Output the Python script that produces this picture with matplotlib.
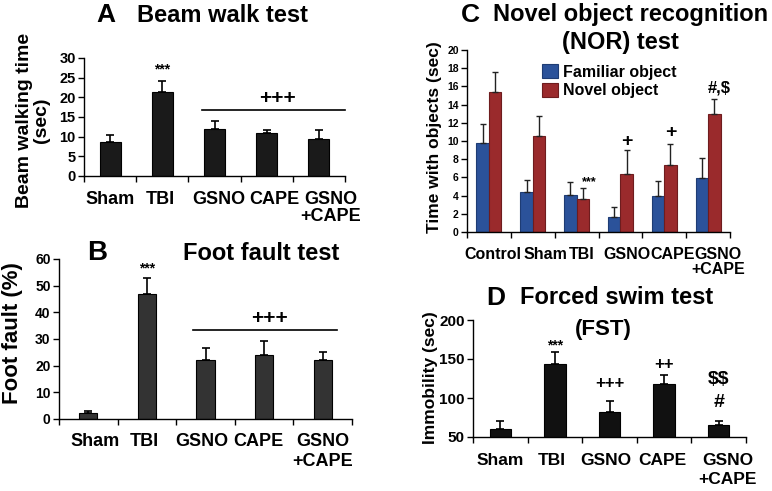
"""
Behaviour test panels (beam walk, foot fault, NOR, forced swim)
"""

import matplotlib
matplotlib.use('Agg')
import matplotlib.pyplot as plt
import numpy as np

plt.rcParams['font.family'] = ['Liberation Sans', 'DejaVu Sans']
plt.rcParams['font.weight'] = 'bold'
plt.rcParams['axes.labelweight'] = 'bold'

# ---- data ----
groups = ['Sham', 'TBI', 'GSNO', 'CAPE', 'GSNO\n+CAPE']
beam_mean = [8.6, 21.3, 12.0, 10.9, 9.3]
beam_err = [1.7, 2.9, 1.9, 0.8, 2.4]

foot_mean = [2.3, 47.0, 22.2, 24.0, 22.2]
foot_err = [0.8, 5.7, 4.6, 5.1, 3.1]

nor_groups = ['Control', 'Sham', 'TBI', 'GSNO', 'CAPE', 'GSNO\n+CAPE']
familiar_mean = [9.8, 4.4, 4.1, 1.6, 4.0, 5.9]
familiar_err = [2.1, 1.3, 1.4, 1.1, 1.6, 2.2]
novel_mean = [15.4, 10.5, 3.6, 6.35, 7.4, 13.0]
novel_err = [2.2, 2.3, 1.2, 2.7, 2.3, 1.6]
nor_series = ['Familiar object', 'Novel object']

fst_mean = [60, 143, 82, 118, 65]
fst_err = [10, 16, 14, 12, 6]

W, H = 772, 491


def px_axes(fig, left, right, top, bottom):
    """axes placed by pixel box"""
    return fig.add_axes([left / W, 1 - bottom / H, (right - left) / W, (bottom - top) / H])


def fig_text(fig, x, y, s, **kw):
    kw.setdefault('ha', 'center')
    kw.setdefault('va', 'center')
    fig.text(x / W, 1 - y / H, s, **kw)


def note(ax, x, y, s, size):
    # significance marks; parse_math off so '$' stays literal
    ax.text(x, y, s, fontsize=size, ha='center', va='center', parse_math=False)


def style_axes(ax, labels, xfs, yfs, pad, linespacing, shift=None):
    n = len(labels)
    for side in ['top', 'right']:
        ax.spines[side].set_visible(False)
    for side in ['left', 'bottom']:
        ax.spines[side].set_linewidth(1.0)
    ax.set_xlim(-0.5, n - 0.5)
    pos = np.arange(n, dtype=float)
    if shift is not None:
        pos = pos + np.array(shift)   # labels sit a bit off-centre in the original
    ax.set_xticks(pos)
    ax.set_xticklabels(labels, fontsize=xfs, linespacing=linespacing)
    ax.set_xticks(np.arange(n + 1) - 0.5, minor=True)
    ax.tick_params(axis='x', which='major', length=0, pad=pad)
    ax.tick_params(axis='x', which='minor', length=4, width=1, direction='out')
    ax.tick_params(axis='y', labelsize=yfs, length=4, width=1, pad=2)


def single_bars(ax, means, errs, color, width):
    x = np.arange(len(means))
    ax.bar(x, means, width, color=color, edgecolor='black', linewidth=0.8, zorder=2)
    ax.errorbar(x, means, yerr=[np.zeros(len(errs)), errs], fmt='none',
                ecolor='black', elinewidth=1.2, capsize=3, capthick=1.2, zorder=3)


fig = plt.figure(figsize=(W / 100, H / 100), dpi=100)

# A: beam walk
ax = px_axes(fig, 84, 345, 58, 176)
single_bars(ax, beam_mean, beam_err, '#1a1a1a', 0.4)
ax.set_ylim(0, 30)
ax.set_yticks(np.arange(0, 31, 5))
style_axes(ax, groups, 13, 10.5, 11, 1.0, shift=[0, -0.04, 0.08, 0.15, 0.23])
note(ax, 1, 27.2, '***', 10)
ax.plot([1.76, 4.5], [16.9, 16.9], color='black', lw=1.2, clip_on=False)
note(ax, 3.2, 19.8, '+++', 15)
fig_text(fig, 106, 15, 'A', fontsize=19)
fig_text(fig, 222, 15, 'Beam walk test', fontsize=17)
fig_text(fig, 33, 120, 'Beam walking time\n(sec)', rotation=90, fontsize=14, linespacing=1.0)

# B: foot fault
ax = px_axes(fig, 59, 352, 259, 419)
single_bars(ax, foot_mean, foot_err, '#333333', 0.31)
ax.set_ylim(0, 60)
ax.set_yticks(np.arange(0, 61, 10))
style_axes(ax, groups, 13, 10, 10, 1.25, shift=[0.12, -0.05, -0.07, -0.1, 0])
note(ax, 1, 56.5, '***', 10)
ax.plot([1.79, 4.25], [33.4, 33.4], color='black', lw=1.2)
note(ax, 3.1, 37.8, '+++', 15)
fig_text(fig, 97, 253, 'B', fontsize=20)
fig_text(fig, 261, 253, 'Foot fault test', fontsize=17)
fig_text(fig, 13, 333, 'Foot fault (%)', rotation=90, fontsize=16)

# C: novel object recognition
ax = px_axes(fig, 467, 730, 50, 232)
x = np.arange(len(nor_groups))
bw = 0.285
for off, means, errs, fc, ec, lab in [(-bw / 2, familiar_mean, familiar_err, '#2B529A', '#1E3C74', nor_series[0]),
                                      (bw / 2, novel_mean, novel_err, '#9A2A2C', '#6E1C1E', nor_series[1])]:
    ax.bar(x + off, means, bw, color=fc, edgecolor=ec, linewidth=0.8, label=lab, zorder=2)
    ax.errorbar(x + off, means, yerr=[np.zeros(len(errs)), errs], fmt='none',
                ecolor='#222222', elinewidth=1.0, capsize=2.5, capthick=1.0, zorder=3)
ax.set_ylim(0, 20)
ax.set_yticks(np.arange(0, 21, 2))
style_axes(ax, nor_groups, 11.5, 7.5, 10.5, 1.05, shift=[0.1, 0.29, 0.12, 0.14, 0.18, 0.23])
note(ax, 2 + 0.3, 5.5, '***', 9)
note(ax, 3 + bw / 2, 9.9, '+', 14)
note(ax, 4 + bw / 2, 10.9, '+', 14)
note(ax, 5 + 0.25, 15.8, '#,$', 12)
ax.legend(loc='upper left', bbox_to_anchor=(542 / W, 1 - 64 / H), bbox_transform=fig.transFigure,
          frameon=False, fontsize=11.5, handlelength=1.0, handleheight=1.0,
          handletextpad=0.3, labelspacing=0.2, borderpad=0, borderaxespad=0)
fig_text(fig, 470, 15, 'C', fontsize=19)
fig_text(fig, 631, 15, 'Novel object recognition', fontsize=17)
fig_text(fig, 620, 42, '(NOR) test', fontsize=17)
fig_text(fig, 434, 137, 'Time with objects (sec)', rotation=90, fontsize=12.5)

# D: forced swim
ax = px_axes(fig, 473, 746, 320, 437)
single_bars(ax, fst_mean, fst_err, '#111111', 0.39)
ax.set_ylim(50, 200)
ax.set_yticks([50, 100, 150, 200])
style_axes(ax, groups, 12.5, 11, 11.5, 1.35, shift=[0, -0.05, -0.07, -0.04, 0.16])
note(ax, 1, 167, '***', 10)
note(ax, 2, 119, '+++', 12)
note(ax, 3, 142.7, '++', 12)
note(ax, 4, 124, '$$', 14)
note(ax, 4, 94, '#', 14)
fig_text(fig, 496, 298, 'D', fontsize=19)
fig_text(fig, 617, 298, 'Forced swim test', fontsize=17)
fig_text(fig, 603, 329, '(FST)', fontsize=16)
fig_text(fig, 430, 378, 'Immobility (sec)', rotation=90, fontsize=12.5)

fig.savefig('out.png', dpi=100)
plt.close(fig)
